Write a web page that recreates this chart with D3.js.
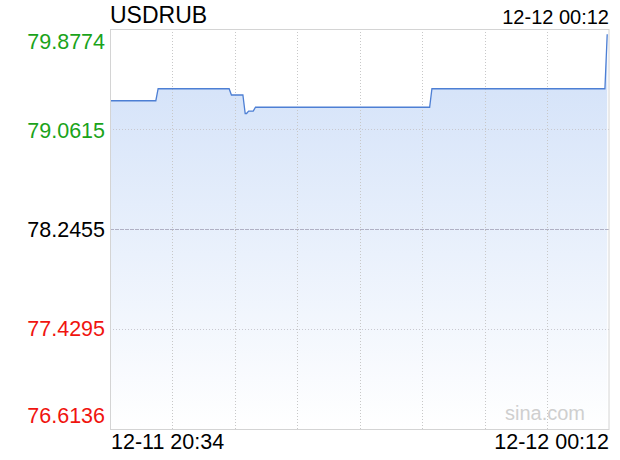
<!DOCTYPE html>
<html><head><meta charset="utf-8">
<script src="https://cdn.jsdelivr.net/npm/d3@7"></script>
<style>html,body{margin:0;padding:0;background:#fff}svg{display:block}</style>
</head><body>
<script>
const symbol = "USDRUB";
const lastTime = "12-12 00:12";
const xLabels = ["12-11 20:34", "12-12 00:12"];
const totalMinutes = 218;
const minutes = [0, 20, 21, 52, 53, 58, 59, 59.6, 60.5, 62.5, 63.5, 139.5, 140.5, 216, 217];
const prices  = [79.292, 79.292, 79.390, 79.390, 79.339, 79.339, 79.188, 79.188, 79.208, 79.208, 79.239, 79.239, 79.390, 79.390, 79.834];
const yTicks = [79.8774, 79.0615, 78.2455, 77.4295, 76.6136];
const yTickLabels = ["79.8774", "79.0615", "78.2455", "77.4295", "76.6136"];
const prevClose = 78.2455;

const W = 620, H = 460;
const L = 110, R = 609.5, T = 29, B = 429;
const svg = d3.select("body").append("svg").attr("width", W).attr("height", H);
const font = "Liberation Sans, Arial, sans-serif";

const x = d3.scaleLinear().domain([0, totalMinutes]).range([L, R]);
const y = d3.scaleLinear().domain([yTicks[4], yTicks[0]]).range([B, T]);

const defs = svg.append("defs");
const grad = defs.append("linearGradient").attr("id", "fillg")
  .attr("gradientUnits", "userSpaceOnUse").attr("x1", 0).attr("y1", T).attr("x2", 0).attr("y2", B);
grad.append("stop").attr("offset", 0).attr("stop-color", "#cfdff8");
grad.append("stop").attr("offset", 1).attr("stop-color", "#ffffff");

const data = minutes.map((m, i) => ({m, v: prices[i]}));

// area
svg.append("path").datum(data)
  .attr("d", d3.area().x(d => x(d.m)).y0(B).y1(d => y(d.v)))
  .attr("fill", "url(#fillg)");

// vertical grid
const vLines = d3.range(1, 8).map(k => totalMinutes * k / 8);
svg.selectAll(".vg").data(vLines).enter().append("line")
  .attr("x1", d => Math.round(x(d)) + 0.5).attr("x2", d => Math.round(x(d)) + 0.5)
  .attr("y1", T).attr("y2", B)
  .attr("stroke", "#c8c8c8").attr("stroke-width", 1).attr("stroke-dasharray", "1,2");

// horizontal grid
yTicks.slice(1, 4).forEach(v => {
  const mid = v === prevClose;
  svg.append("line")
    .attr("x1", L).attr("x2", R)
    .attr("y1", Math.round(y(v)) + 0.5).attr("y2", Math.round(y(v)) + 0.5)
    .attr("stroke", mid ? "#b0b0c4" : "#c8c8d0")
    .attr("stroke-width", 1)
    .attr("stroke-dasharray", mid ? "4,1" : "1,2");
});

// line
svg.append("path").datum(data)
  .attr("d", d3.line().x(d => x(d.m)).y(d => y(d.v)))
  .attr("fill", "none").attr("stroke", "#4d7fd4").attr("stroke-width", 1.3);

// frame
svg.append("rect").attr("x", L + 0.5).attr("y", T + 0.5).attr("width", R - L - 1).attr("height", B - T)
  .attr("fill", "none").attr("stroke", "#d4d4d4");

// y labels
const yColor = v => v > prevClose ? "#1aa31a" : (v < prevClose ? "#f0140f" : "#000");
const yPos = [41, 130, 229, 328, 415];
yTicks.forEach((v, i) => {
  svg.append("text").attr("x", 105).attr("y", yPos[i]).attr("dy", "0.36em")
    .attr("text-anchor", "end").attr("font-family", font).attr("font-size", 21.5)
    .attr("fill", yColor(v)).text(yTickLabels[i]);
});

// title
svg.append("text").attr("x", 110).attr("y", 23).attr("font-family", font).attr("font-size", 23)
  .attr("fill", "#000").text(symbol);
svg.append("text").attr("x", 609).attr("y", 24).attr("text-anchor", "end").attr("font-family", font)
  .attr("font-size", 20).attr("fill", "#000").text(lastTime);

// x labels
svg.append("text").attr("x", 111).attr("y", 449).attr("font-family", font).attr("font-size", 21.5)
  .attr("fill", "#000").text(xLabels[0]);
svg.append("text").attr("x", 609).attr("y", 449).attr("text-anchor", "end").attr("font-family", font)
  .attr("font-size", 21.5).attr("fill", "#000").text(xLabels[1]);

// watermark
svg.append("text").attr("x", 585).attr("y", 420).attr("text-anchor", "end").attr("font-family", font)
  .attr("font-size", 20).attr("fill", "#cfcfcf").text("sina.com");
</script>
</body></html>
